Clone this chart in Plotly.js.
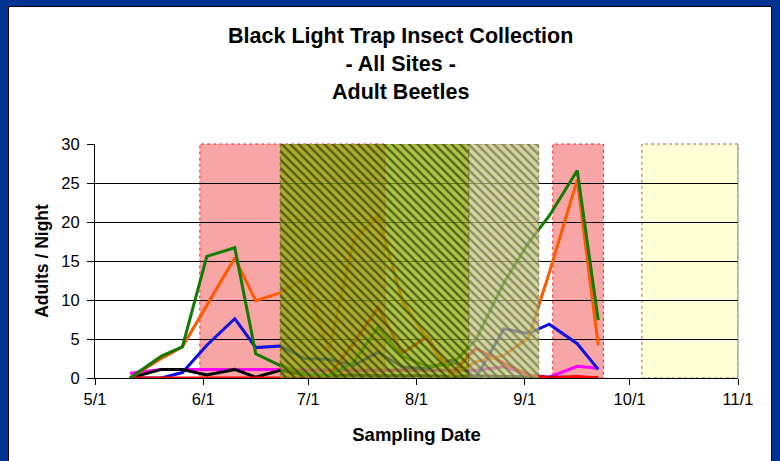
<!DOCTYPE html>
<html>
<head>
<meta charset="utf-8">
<script src="https://cdn.plot.ly/plotly-3.0.1.min.js"></script>
<style>
  html, body { margin: 0; padding: 0; }
  body { width: 780px; height: 461px; background: #00338f; position: relative; overflow: hidden; }
  #frame { position: absolute; left: 8px; top: 6px; width: 764px; height: 455px; background: #000; }
  #chart { position: absolute; left: 1px; top: 1px; width: 762px; height: 454px; background: #fff; }
</style>
</head>
<body>
<div id="frame"><div id="chart"></div></div>
<script>
// Sampling dates
const dates = ['2005-05-11','2005-05-20','2005-05-26','2005-06-02','2005-06-10','2005-06-16','2005-06-23',
               '2005-06-30','2005-07-07','2005-07-14','2005-07-21','2005-07-28','2005-08-04','2005-08-11',
               '2005-08-18','2005-08-26','2005-09-02','2005-09-08','2005-09-16','2005-09-22'];

// Series values (adults / night)
const greenVals   = [0, 2.8, 4.0, 15.6, 16.7, 3.1, 1.6, 0.5, 0.3, 2.0, 6.5, 2.8, 1.5, 1.7, 4.9, 12.2, 17.3, 20.8, 26.6, 7.4];
const orangeVals  = [0, 2.5, 4.0, 9.4, 15.4, 9.9, 10.9, 12.8, 3.5, 17.6, 20.8, 9.8, 5.0, 0.3, 2.1, 2.9, 5.1, 13.5, 25.4, 4.2];
const blueVals    = [0, 0, 0.7, 4.2, 7.6, 3.9, 4.1, 2.5, 2.4, 1.6, 3.3, 1.4, 1.2, 2.3, 0, 6.3, 5.7, 6.9, 4.4, 1.1];
const blackVals   = [0, 1.1, 1.1, 0.4, 1.1, 0.1, 1.0, 0.4, 0.3, 0.4, 0.3, 0.3, 0.3, 0.2, 0.3, 0.2, 0.1, 0.1, 0.1, 0];
const magentaVals = [0.6, 1.1, 1.1, 1.1, 1.1, 1.1, 1.1, 1.0, 1.0, 1.0, 1.0, 1.0, 1.0, 1.0, 1.0, 1.45, 0.4, 0.1, 1.5, 1.25];
const redVals     = [0, 0, 0, 0, 0, 0, 0, 0, 0.3, 4.5, 9.0, 3.2, 5.3, 0.5, 3.8, 1.9, 0.4, 0, 0.2, 0];

// Highlight periods
const redPeriodStart    = ['2005-05-31', '2005-09-09'];
const redPeriodEnd      = ['2005-07-23', '2005-09-23 12:00'];
const greenPeriodStart  = ['2005-06-23'];
const greenPeriodEnd    = ['2005-08-16'];
const grayPeriodStart   = ['2005-08-16'];
const grayPeriodEnd     = ['2005-09-05'];
const yellowPeriodStart = ['2005-10-04 12:00'];
const yellowPeriodEnd   = ['2005-11-01'];

const yMax = 30;
const xTickVals = ['2005-05-01','2005-06-01','2005-07-01','2005-08-01','2005-09-01','2005-10-01','2005-11-01'];
const xTickText = ['5/1','6/1','7/1','8/1','9/1','10/1','11/1'];

function lineTrace(y, color) {
  return { type: 'scatter', mode: 'lines', x: dates, y: y,
           line: { color: color, width: 3 }, hoverinfo: 'skip', showlegend: false };
}
function bandTrace(s, e, bg, fg) {
  return { type: 'scatter', mode: 'lines', x: [s, e, e, s, s], y: [0, 0, yMax, yMax, 0],
           fill: 'toself', fillcolor: bg, line: { width: 1, color: 'rgba(110,80,40,0.7)', dash: 'dot' },
           fillpattern: { shape: '\\', bgcolor: bg, fgcolor: fg, size: 6, solidity: 0.4 },
           hoverinfo: 'skip', showlegend: false };
}

const traces = [
  lineTrace(magentaVals, '#ff00ff'),
  lineTrace(blueVals, '#1010e0'),
  lineTrace(blackVals, '#000000'),
  lineTrace(redVals, '#ff0000'),
  lineTrace(orangeVals, '#ff5a00'),
  lineTrace(greenVals, '#117a00'),
  bandTrace(greenPeriodStart[0], greenPeriodEnd[0], 'rgba(145,175,0,0.72)', 'rgba(45,55,10,0.7)'),
  bandTrace(grayPeriodStart[0], grayPeriodEnd[0], 'rgba(195,200,115,0.72)', 'rgba(105,105,85,0.7)')
];

const shapes = [];
for (let i = 0; i < redPeriodStart.length; i++) {
  shapes.push({ type: 'rect', xref: 'x', yref: 'paper', x0: redPeriodStart[i], x1: redPeriodEnd[i], y0: 0, y1: 1,
                layer: 'below', fillcolor: 'rgb(248,165,165)', line: { color: '#ff2020', width: 1, dash: 'dot' } });
}
for (let i = 0; i < yellowPeriodStart.length; i++) {
  shapes.push({ type: 'rect', xref: 'x', yref: 'paper', x0: yellowPeriodStart[i], x1: yellowPeriodEnd[i], y0: 0, y1: 1,
                layer: 'below', fillcolor: 'rgb(255,255,214)', line: { color: '#b0603a', width: 1, dash: 'dot' } });
}
shapes.push({ type: 'line', xref: 'paper', yref: 'paper', x0: 1, x1: 1, y0: 0, y1: 1, line: { color: '#888', width: 1 } });

const layout = {
  width: 762, height: 454,
  margin: { l: 86, r: 33, t: 137, b: 83 },
  paper_bgcolor: '#ffffff', plot_bgcolor: 'rgba(0,0,0,0)',
  font: { family: 'Liberation Sans, Arial, sans-serif', color: '#000' },
  title: { text: '<b>Black Light Trap Insect Collection<br>- All Sites -<br>Adult Beetles</b>',
           font: { size: 21.5, family: 'Liberation Sans, Arial, sans-serif', color: '#000' },
           x: 0.514, xref: 'container', y: 0.921, yref: 'container', xanchor: 'center', yanchor: 'middle' },
  xaxis: {
    type: 'date', range: ['2005-05-01', '2005-11-01'],
    tickvals: xTickVals, ticktext: xTickText,
    showgrid: false, zeroline: false, showline: true, linecolor: '#000', linewidth: 1,
    ticks: 'outside', ticklen: 6, tickcolor: '#000', tickfont: { size: 16.5 },
    title: { text: '<b>Sampling Date</b>', font: { size: 18.5 }, standoff: 21 },
    fixedrange: true
  },
  yaxis: {
    range: [0, yMax], dtick: 5, tick0: 0,
    showgrid: true, gridcolor: '#000', gridwidth: 1, zeroline: false,
    showline: true, linecolor: '#000', linewidth: 1,
    ticks: 'outside', ticklen: 7, tickcolor: '#000', tickfont: { size: 16.5 }, ticklabelstandoff: 4,
    title: { text: '<b>Adults / Night</b>', font: { size: 17.5 }, standoff: 8 },
    fixedrange: true
  },
  shapes: shapes,
  showlegend: false,
  hovermode: false
};

Plotly.newPlot('chart', traces, layout, { displayModeBar: false, staticPlot: true });
</script>
</body>
</html>
